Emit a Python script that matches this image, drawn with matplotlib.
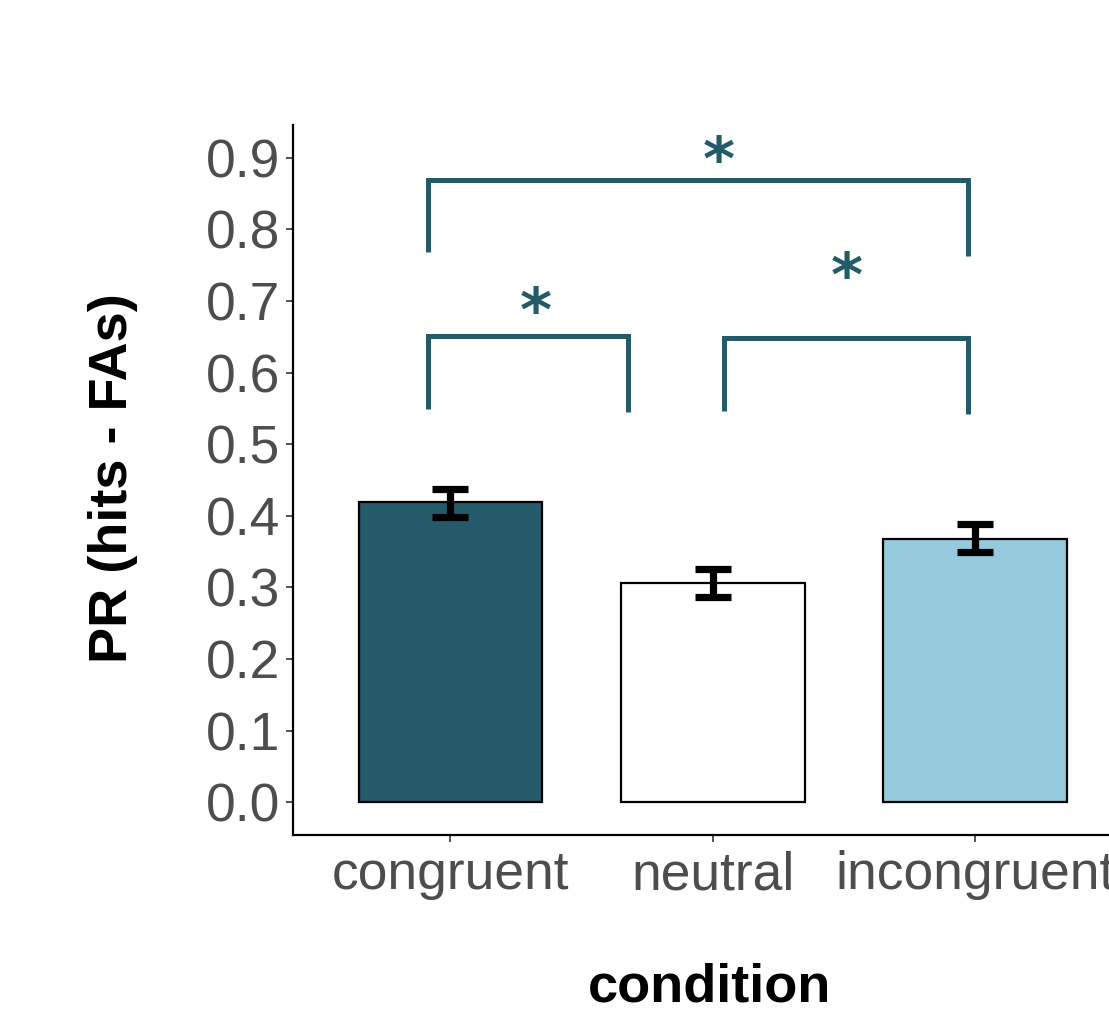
import matplotlib
matplotlib.use("Agg")
import matplotlib.pyplot as plt

conditions = ["congruent", "neutral", "incongruent"]
means = [0.419, 0.306, 0.368]
err_lo = [0.398, 0.287, 0.349]
err_hi = [0.438, 0.325, 0.388]
bar_colors = ["#245A69", "#FFFFFF", "#94CADC"]
yticks = [0.0, 0.1, 0.2, 0.3, 0.4, 0.5, 0.6, 0.7, 0.8, 0.9]

# significance brackets: (x_left, x_right, top, left_leg_bottom, right_leg_bottom, star_x, star_y)
brackets = [
    (0.916, 2.973, 0.869, 0.768, 0.763, 2.021, 0.915),
    (0.914, 1.678, 0.651, 0.549, 0.545, 1.324, 0.704),
    (2.044, 2.973, 0.648, 0.547, 0.542, 2.509, 0.753),
]
sig_color = "#235B69"

plt.rcParams['font.family'] = ['Liberation Sans', 'DejaVu Sans']
fig = plt.figure(figsize=(11.09, 10.16), dpi=100)
ax = fig.add_axes([0.2642, 0.1781, 1.0212 - 0.2642, 0.877 - 0.1781])

x = [1, 2, 3]
ax.bar(x, means, width=0.7, color=bar_colors, edgecolor="black", linewidth=1.6, zorder=2)
for xi, m, lo, hi in zip(x, means, err_lo, err_hi):
    ax.errorbar([xi], [m], yerr=[[m - lo], [hi - m]], fmt="none", ecolor="black",
                elinewidth=5.2, capsize=13, capthick=5.2, zorder=3)

for xl, xr, top, lb, rb, sx, sy in brackets:
    ax.plot([xl, xl, xr, xr], [lb, top, top, rb], color=sig_color, lw=3.6,
            solid_joinstyle="miter", solid_capstyle="butt", zorder=4, clip_on=False)
    ax.annotate("*", xy=(sx, sy), xytext=(0, -12), textcoords="offset points",
                color=sig_color, fontsize=44, ha="center", va="center",
                family="DejaVu Sans", fontweight="bold", zorder=5)

ax.set_xlim(0.4, 3.6)
ax.set_ylim(-0.046, 0.946)
ax.set_xticks(x)
ax.set_xticklabels(conditions)
ax.set_yticks(yticks)
ax.set_yticklabels([f"{t:.1f}" for t in yticks])

for s in ["top", "right"]:
    ax.spines[s].set_visible(False)
for s in ["left", "bottom"]:
    ax.spines[s].set_linewidth(1.6)
    ax.spines[s].set_color("black")

ax.tick_params(axis="both", length=5, width=1.2, color="#333333",
               labelsize=38.4, labelcolor="#4D4D4D")
ax.tick_params(axis="y", pad=4)
ax.tick_params(axis="x", pad=6)

fig.text(113 / 1109, 1 - 478 / 1016, "PR (hits - FAs)", rotation=90, fontsize=39,
         fontweight="bold", ha="center", va="center", color="black")
fig.text(710 / 1109, 1 - 988 / 1016, "condition", fontsize=39,
         fontweight="bold", ha="center", va="center", color="black")

fig.savefig("out.png", dpi=100, facecolor="white")
